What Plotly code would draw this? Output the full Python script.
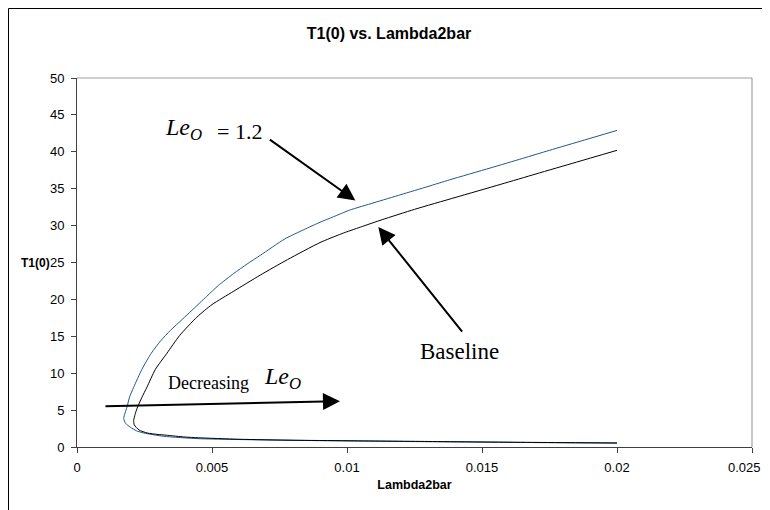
import plotly.graph_objects as go

# Le_O = 1.2 curve (ordered along the path: lower branch -> turning point -> upper branch)
le12_x = [0.0200, 0.0170, 0.0130, 0.0100, 0.0070, 0.0050, 0.00444, 0.00321, 0.00247, 0.0022,
          0.00197, 0.0018, 0.00173,
          0.00178, 0.00185, 0.00195, 0.0021, 0.0024, 0.00275, 0.0031, 0.00346, 0.0039, 0.00425,
          0.0048, 0.00524, 0.0058, 0.0063, 0.0068, 0.0077, 0.0084, 0.0090, 0.0095, 0.0101,
          0.0110, 0.0120, 0.0130, 0.0138, 0.0153, 0.0165, 0.0175, 0.0188, 0.0200]
le12_y = [0.52, 0.60, 0.72, 0.82, 0.95, 1.08, 1.14, 1.45, 1.90, 2.20,
          2.70, 3.20, 3.85,
          4.6, 5.4, 6.8, 8.1, 10.5, 12.7, 14.4, 15.8, 17.3, 18.5,
          20.4, 21.9, 23.5, 24.8, 26.0, 28.2, 29.45, 30.45, 31.2, 32.1,
          33.1, 34.2, 35.3, 36.2, 37.8, 39.1, 40.2, 41.6, 42.9]

# Baseline curve
base_x = [0.0200, 0.0170, 0.0130, 0.0100, 0.0080, 0.0060, 0.0045, 0.0040, 0.0033, 0.0030,
          0.0026, 0.0023, 0.00212, 0.0021,
          0.00215, 0.00222, 0.0024, 0.00259, 0.0029, 0.00333, 0.0038, 0.00444, 0.0050, 0.0058,
          0.00679, 0.0078, 0.0090, 0.0098, 0.0105, 0.0113, 0.0125, 0.0140, 0.0157, 0.0170,
          0.0185, 0.0200]
base_y = [0.55, 0.62, 0.75, 0.85, 0.92, 1.05, 1.25, 1.35, 1.60, 1.70,
          1.90, 2.30, 3.00, 3.60,
          4.4, 5.2, 6.7, 8.1, 10.5, 12.7, 15.1, 17.6, 19.3, 21.1,
          23.3, 25.4, 27.7, 28.9, 29.8, 30.8, 32.2, 33.8, 35.6, 37.0,
          38.6, 40.2]

x_ticks = [0, 0.005, 0.01, 0.015, 0.02, 0.025]
x_tick_labels = ["0", "0.005", "0.01", "0.015", "0.02", "0.025"]
y_ticks = [0, 5, 10, 15, 20, 25, 30, 35, 40, 45, 50]

W, H = 770, 510
L, R, T, B = 69, 26, 70, 71
pw, ph = W - L - R, H - T - B


def px_x(p):
    return (p - L) / pw


def px_y(p):
    return 1 - (p - T) / ph


fig = go.Figure()
fig.add_trace(go.Scatter(x=le12_x, y=le12_y, mode="lines", line_shape="spline",
                         line=dict(color="#22558f", width=1, smoothing=0.6), showlegend=False))
fig.add_trace(go.Scatter(x=base_x, y=base_y, mode="lines", line_shape="spline",
                         line=dict(color="#000000", width=1, smoothing=0.6), showlegend=False))

serif = "Liberation Serif, Times New Roman, serif"
arial = "Liberation Sans, Arial, sans-serif"

# outer chart-area frame (left and top edges visible)
fig.add_shape(type="line", xref="paper", yref="paper",
              x0=px_x(0.5), y0=px_y(0.5), x1=px_x(800), y1=px_y(0.5),
              line=dict(color="black", width=1))
fig.add_shape(type="line", xref="paper", yref="paper",
              x0=px_x(0.5), y0=px_y(0.5), x1=px_x(0.5), y1=px_y(560),
              line=dict(color="black", width=1))
# plot-area border (top / right)
fig.add_shape(type="line", xref="paper", yref="paper", x0=0, y0=1, x1=1, y1=1,
              line=dict(color="#a0a0a0", width=1.2))
fig.add_shape(type="line", xref="paper", yref="paper", x0=1, y0=0, x1=1, y1=1,
              line=dict(color="#a0a0a0", width=1.2))

arrow = dict(showarrow=True, arrowhead=2, arrowsize=1.7, arrowwidth=2,
             arrowcolor="black", text="", xref="x", yref="y")

# Le_O = 1.2 label and arrow
fig.add_annotation(x=0.01031, y=33.4, ax=-87, ay=-62, **arrow)
fig.add_annotation(x=px_x(155), y=px_y(121), xref="paper", yref="paper",
                   text="<i>Le<sub>O</sub></i>", showarrow=False,
                   xanchor="left", yanchor="middle",
                   font=dict(family=serif, size=24, color="black"))
fig.add_annotation(x=px_x(256), y=px_y(123), xref="paper", yref="paper",
                   text="= 1.2", showarrow=False,
                   xanchor="right", yanchor="middle",
                   font=dict(family=serif, size=22, color="black"))

# Baseline label and arrow
fig.add_annotation(x=0.01116, y=29.8, ax=85, ay=106, **arrow)
fig.add_annotation(x=px_x(451), y=px_y(343), xref="paper", yref="paper",
                   text="Baseline", showarrow=False,
                   xanchor="center", yanchor="middle",
                   font=dict(family=serif, size=23, color="black"))

# Decreasing Le_O label and arrow
fig.add_annotation(x=0.00974, y=6.2, ax=-236, ay=5, **arrow)
fig.add_annotation(x=px_x(158), y=px_y(375), xref="paper", yref="paper",
                   text="Decreasing", showarrow=False,
                   xanchor="left", yanchor="middle",
                   font=dict(family=serif, size=18, color="black"))
fig.add_annotation(x=px_x(254), y=px_y(370), xref="paper", yref="paper",
                   text="<i>Le<sub>O</sub></i>", showarrow=False,
                   xanchor="left", yanchor="middle",
                   font=dict(family=serif, size=24, color="black"))

# y-axis title (horizontal, left of tick labels)
fig.add_annotation(x=px_x(44), y=0.5, xref="paper", yref="paper",
                   text="<b>T1(0)</b>", showarrow=False,
                   xanchor="right", yanchor="middle",
                   font=dict(family=arial, size=12, color="black"))

# last x tick label, pulled inside the chart area as in the reference
fig.add_annotation(x=px_x(736.5), y=px_y(459), xref="paper", yref="paper",
                   text=x_tick_labels[-1], showarrow=False,
                   xanchor="center", yanchor="middle",
                   font=dict(family=arial, size=13, color="black"))
shown_labels = x_tick_labels[:-1] + [""]

fig.update_layout(
    width=W, height=H,
    margin=dict(l=L, r=R, t=T, b=B, autoexpand=False),
    paper_bgcolor="white", plot_bgcolor="white",
    title=dict(text="<b>T1(0) vs. Lambda2bar</b>", x=381 / W,
               xanchor="center", y=1 - 25 / H, yanchor="middle",
               font=dict(family=arial, size=16, color="black")),
    xaxis=dict(range=[0, 0.025], tickvals=x_ticks, ticktext=shown_labels,
               automargin=False,
               showgrid=False, zeroline=False, showline=True, linecolor="#404040",
               linewidth=1, ticks="outside", ticklen=5, tickcolor="#404040",
               ticklabelstandoff=3,
               tickfont=dict(family=arial, size=13, color="black"),
               title=dict(text="<b>Lambda2bar</b>", standoff=6,
                          font=dict(family=arial, size=12.5, color="black"))),
    yaxis=dict(range=[0, 50], tickvals=y_ticks, automargin=False,
               showgrid=False, zeroline=False, showline=True, linecolor="#404040",
               linewidth=1, ticks="outside", ticklen=5, tickcolor="#404040",
               ticklabelstandoff=4,
               tickfont=dict(family=arial, size=13, color="black")),
)

fig.write_html("out.html")
